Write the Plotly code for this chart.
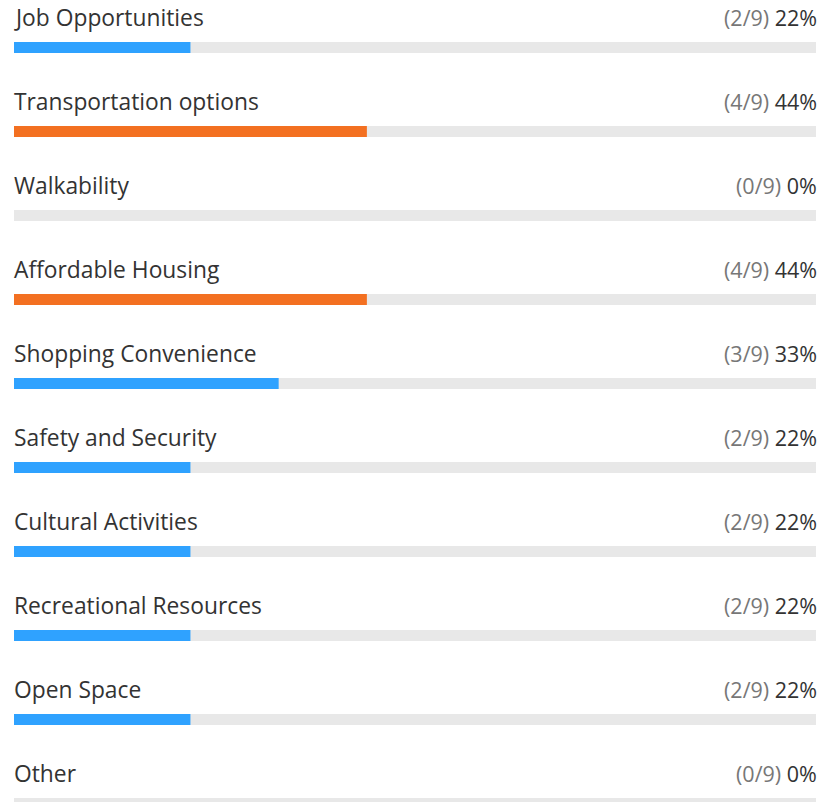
import plotly.graph_objects as go

# Survey responses: option, vote count, rounded percentage
options = [
    "Job Opportunities",
    "Transportation options",
    "Walkability",
    "Affordable Housing",
    "Shopping Convenience",
    "Safety and Security",
    "Cultural Activities",
    "Recreational Resources",
    "Open Space",
    "Other",
]
votes = [2, 4, 0, 4, 3, 2, 2, 2, 2, 0]
total_votes = 9
percents = [22, 44, 0, 44, 33, 22, 22, 22, 22, 0]

BLUE = "#2FA2FF"
ORANGE = "#F37021"
TRACK = "#E8E8E8"
LABEL = "#333333"
MUTED = "#777777"
FONT = "Open Sans"
FONT_SIZE = 22.8
COUNT_SIZE = 21.5

# Highlight the leading option(s) in orange
top = max(votes)
fill_colors = [ORANGE if v == top else BLUE for v in votes]

rows = list(range(len(options)))

fig = go.Figure()
# Grey track behind each bar
fig.add_trace(go.Bar(
    x=[100] * len(options), y=rows, orientation="h",
    marker=dict(color=TRACK, line=dict(width=0)),
    width=0.131, hoverinfo="skip", showlegend=False,
))
# Filled portion
fig.add_trace(go.Bar(
    x=percents, y=rows, orientation="h",
    marker=dict(color=fill_colors, line=dict(width=0)),
    width=0.131, showlegend=False,
))

label_offset = 0.36
for i, (name, v, p) in enumerate(zip(options, votes, percents)):
    fig.add_annotation(
        x=0, xref="paper", y=i - label_offset, yref="y",
        text=name, showarrow=False, xanchor="left", yanchor="middle",
        xshift=-2,
        font=dict(family=FONT, size=FONT_SIZE, color=LABEL),
    )
    fig.add_annotation(
        x=1, xref="paper", y=i - label_offset, yref="y",
        text=f"<span style='color:{MUTED}'>({v}/{total_votes})</span> {p}%",
        showarrow=False, xanchor="right", yanchor="middle",
        xshift=3,
        font=dict(family=FONT, size=COUNT_SIZE, color=LABEL),
    )

fig.update_layout(
    width=821, height=802,
    margin=dict(l=14, r=5, t=0, b=0),
    paper_bgcolor="white", plot_bgcolor="white",
    barmode="overlay",
    xaxis=dict(range=[0, 100], visible=False, fixedrange=True),
    yaxis=dict(range=[8.982, -0.5655], visible=False, fixedrange=True),
)

fig.write_html("out.html")
